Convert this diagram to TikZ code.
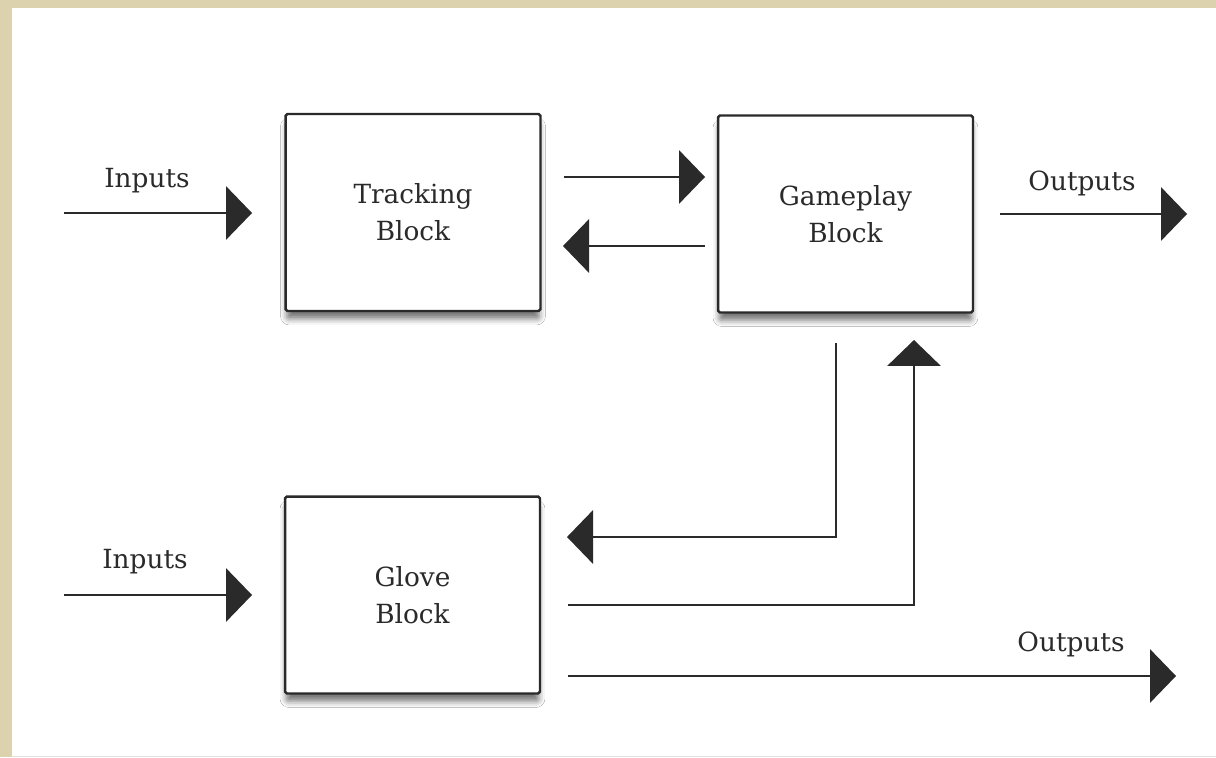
\documentclass[tikz,border=0pt]{standalone}
\usepackage{fontspec}
\setmainfont{DejaVu Serif}
\usepackage{xcolor}
\usetikzlibrary{arrows.meta,positioning,shadows.blur}
\definecolor{paper}{HTML}{DCD2AE}
\definecolor{ink}{HTML}{2A2A2A}
\tikzset{%
	block/.style  = {draw=ink, line width=1.4pt, rounded corners=1pt, fill=white, minimum width=5.1cm, minimum height=3.94cm, align=center, text=ink, font=\fontsize{15}{21}\selectfont, blur shadow={shadow xshift=0pt, shadow yshift=-5pt, shadow blur radius=3.5pt, shadow opacity=55, shadow scale=0.99}},
	label/.style  = {text=ink, font=\fontsize{15}{21}\selectfont},
	arrow/.style  = {draw=ink, line width=0.9pt, -{Triangle[length=0.52cm, width=1.07cm]}},
}
\begin{document}
\begin{tikzpicture}[x=0.02cm,y=-0.02cm]
	% frame
	\useasboundingbox (0,0) rectangle (1216,757);
	\fill[paper] (0,0) rectangle (1216,757);
	\fill[white] (11,8) rectangle (1216,756);
	\draw[gray!35, line width=1pt] (11.5,8) -- (11.5,756);
	\draw[gray!25, line width=0.8pt] (11,756.5) -- (1216,756.5);
	% blocks
	\node[block] (tracking) at (413,212.5) {Tracking\\Block};
	\node[block] (gameplay) at (845.5,214) {Gameplay\\Block};
	\node[block] (glove)    at (412.5,595) {Glove\\Block};
	% free ends
	\coordinate (in1)   at (64,213);
	\coordinate (in1t)  at (252,213);
	\coordinate (in2)   at (64,595);
	\coordinate (in2t)  at (252,595);
	\coordinate (fwd1)  at (564,177);
	\coordinate (fwd2)  at (705,177);
	\coordinate (back1) at (705,246);
	\coordinate (back2) at (563,246);
	\coordinate (out1)  at (1000,214);
	\coordinate (out1t) at (1187,214);
	\coordinate (dn1)   at (836,343);
	\coordinate (dn2)   at (567,537);
	\coordinate (up1)   at (568,605);
	\coordinate (up2)   at (914,340);
	\coordinate (out2)  at (568,676);
	\coordinate (out2t) at (1176,676);
	% connectors
	\draw[arrow] (in1) -- (in1t);
	\draw[arrow] (in2) -- (in2t);
	\draw[arrow] (fwd1) -- (fwd2);
	\draw[arrow] (back1) -- (back2);
	\draw[arrow] (out1) -- (out1t);
	\draw[arrow] (dn1) |- (dn2);
	\draw[arrow] (up1) -| (up2);
	\draw[arrow] (out2) -- (out2t);
	% labels
	\node[label] (lin1)  at (147,181) {Inputs};
	\node[label] (lin2)  at (145,562) {Inputs};
	\node[label] (lout1) at (1082,183) {Outputs};
	\node[label] (lout2) at (1071,644) {Outputs};
\end{tikzpicture}
\end{document}
